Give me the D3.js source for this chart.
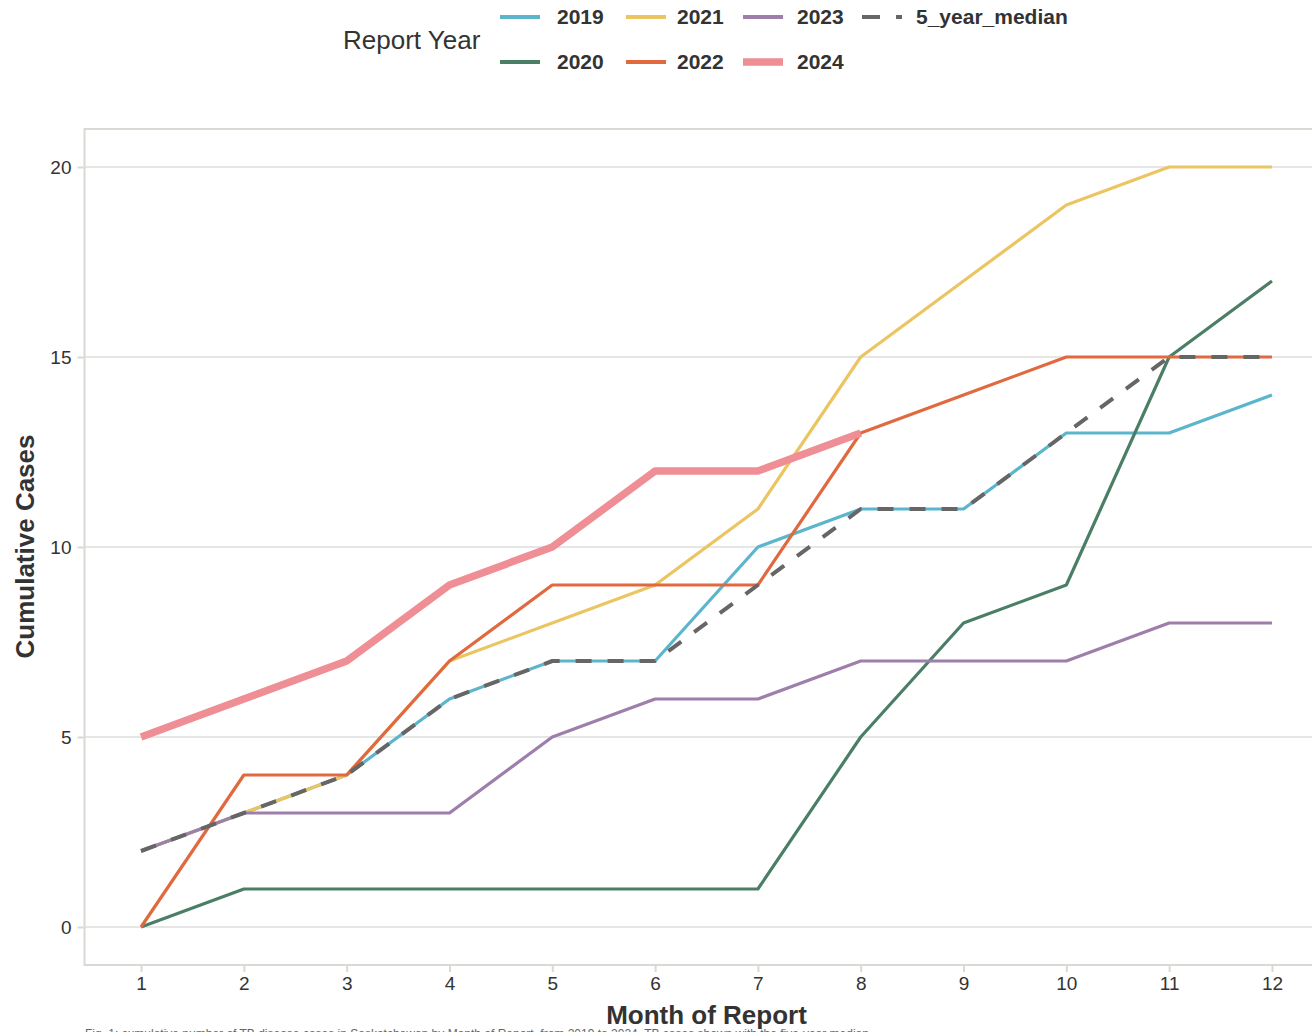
<!DOCTYPE html>
<html><head><meta charset="utf-8">
<script src="https://cdn.jsdelivr.net/npm/d3@7"></script>
<style>body{margin:0;background:#fff;} svg{display:block;}</style>
</head><body>
<svg id="c" width="1312" height="1032"></svg>
<script>
const months = [1,2,3,4,5,6,7,8,9,10,11,12];
const yTicks = [0,5,10,15,20];
const seriesNames = ["2019","2020","2021","2022","2023","2024","5_year_median"];
const s2019 = [2,3,4,6,7,7,10,11,11,13,13,14];
const s2020 = [0,1,1,1,1,1,1,5,8,9,15,17];
const s2021 = [2,3,4,7,8,9,11,15,17,19,20,20];
const s2022 = [0,4,4,7,9,9,9,13,14,15,15,15];
const s2023 = [2,3,3,3,5,6,6,7,7,7,8,8];
const s2024 = [5,6,7,9,10,12,12,13];
const sMedian = [2,3,4,6,7,7,9,11,11,13,15,15];
const colors = ["#5BB5CC","#4A7F65","#EBC562","#E0693F","#9E7EAA","#EF8E94","#666666"];
const caption = "Fig. 1: cumulative number of TB disease cases in Saskatchewan by Month of Report, from 2019 to 2024, TB cases shown with the five-year median";

const data = [s2019,s2020,s2021,s2022,s2023,s2024,sMedian];
const svg = d3.select("#c");
const font = "'Liberation Sans', Arial, Helvetica, sans-serif";

const x = d3.scaleLinear().domain([0.45,12.55]).range([84.5,1328.5]);
const y = d3.scaleLinear().domain([-1,21]).range([965,129]);

// grid
svg.append("g").selectAll("line").data(yTicks).join("line")
  .attr("x1",84.5).attr("x2",1328.5)
  .attr("y1",d=>y(d)).attr("y2",d=>y(d))
  .attr("stroke","#e6e6e6").attr("stroke-width",2);

// panel border
svg.append("rect").attr("x",84.5).attr("y",129).attr("width",1244).attr("height",836)
  .attr("fill","none").attr("stroke","#dcd8d3").attr("stroke-width",2);

// axes
const xAxis = svg.append("g").attr("transform","translate(0,966)")
  .call(d3.axisBottom(x).tickValues(months).tickSize(6).tickPadding(5).tickFormat(d3.format("d")));
const yAxis = svg.append("g").attr("transform","translate(83.5,0)")
  .call(d3.axisLeft(y).tickValues(yTicks).tickSize(6).tickPadding(6).tickFormat(d3.format("d")));
[xAxis,yAxis].forEach(a=>{
  a.select(".domain").remove();
  a.selectAll(".tick line").attr("stroke","#dcd8d3").attr("stroke-width",2);
  a.selectAll(".tick text").attr("fill","#333").style("font-family",font).style("font-size","19px");
});

// lines
const line = d3.line().x((d,i)=>x(months[i])).y(d=>y(d));
data.forEach((vals,k)=>{
  const p = svg.append("path").datum(vals).attr("d",line)
    .attr("fill","none").attr("stroke",colors[k])
    .attr("stroke-linejoin","round")
    .attr("stroke-width", k===5 ? 7.5 : (k===6 ? 4 : 3.2));
  if(k===6) p.attr("stroke-dasharray","16,16");
});

// axis titles
svg.append("text").attr("x",706.5).attr("y",1024).attr("text-anchor","middle")
  .style("font-family",font).style("font-weight","bold").style("font-size","26px")
  .attr("fill","#333").text("Month of Report");
svg.append("text").attr("transform","translate(34,546.5) rotate(-90)").attr("text-anchor","middle")
  .style("font-family",font).style("font-weight","bold").style("font-size","26px")
  .attr("fill","#333").text("Cumulative Cases");

// caption (partly below the bottom edge, as in the reference)
svg.append("text").attr("x",85).attr("y",1038)
  .style("font-family",font).style("font-size","12px").attr("fill","#666").text(caption);

// legend
svg.append("text").attr("x",343).attr("y",49)
  .style("font-family",font).style("font-size","26px").attr("fill","#333").text("Report Year");
const legPos = [[500,17],[500,62],[626,17],[626,62],[743,17],[743,62],[862,17]];
const labX = [557,557,677,677,797,797,916];
seriesNames.forEach((n,k)=>{
  const [lx,ly] = legPos[k];
  const l = svg.append("line").attr("x1",lx).attr("x2",lx+40).attr("y1",ly).attr("y2",ly)
    .attr("stroke",colors[k]).attr("stroke-width", k===5 ? 7.5 : 4);
  if(k===6) l.attr("stroke-dasharray","18,16");
  svg.append("text").attr("x", labX[k]).attr("y",ly+7)
    .style("font-family",font).style("font-weight","bold").style("font-size","21px")
    .attr("fill","#333").text(n);
});
</script>
</body></html>
